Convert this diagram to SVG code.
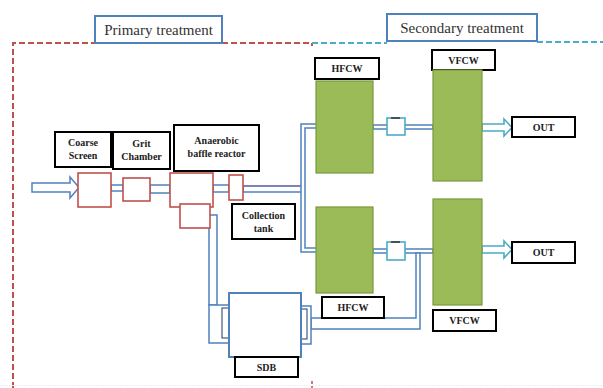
<svg xmlns="http://www.w3.org/2000/svg" width="603" height="388" viewBox="0 0 603 388">
<defs>
<style>
.lbl{fill:#fff;stroke:#000;stroke-width:2}
.t{font-family:"Liberation Serif",serif;font-weight:bold;font-size:10px;fill:#222;text-anchor:middle}
.title{font-family:"Liberation Serif",serif;font-size:15px;fill:#333;text-anchor:middle}
.tbox{fill:#fff;stroke:#4f81bd;stroke-width:2}
.red{fill:#fff;stroke:#c0504d;stroke-width:1.6}
.pipe{fill:#fff;stroke:#4f81bd;stroke-width:1.5}
.cy{fill:#fff;stroke:#4bacc6;stroke-width:1.6}
.green{fill:#9bbb59;stroke:#789a3e;stroke-width:1.2}
</style>
</defs>
<rect width="603" height="388" fill="#fff"/>
<g id="regions">
<path d="M13,388 V43 H95 M222,43 H312 V46" fill="none" stroke="#c0504d" stroke-width="2" stroke-dasharray="6,3"/>
<path d="M312,43 H387 M537,42 H603" fill="none" stroke="#4bacc6" stroke-width="2" stroke-dasharray="6,3"/>
<path d="M312,381 V388" stroke="#c0504d" stroke-width="1.5" stroke-dasharray="3,2"/>
<line x1="0" y1="385.5" x2="603" y2="385.5" stroke="#eee" stroke-width="1" stroke-dasharray="2,1"/>
</g>
<g id="primary-title"><rect class="tbox" x="95" y="16" width="127" height="27"/><text class="title" x="158.5" y="34.5">Primary treatment</text></g>
<g id="secondary-title"><rect class="tbox" x="387" y="14" width="150" height="27"/><text class="title" x="462" y="32.5">Secondary treatment</text></g>
<g id="connectors">
<!-- input arrow -->
<path d="M32,183 H70 V177 L79,187.5 L70,198 V192 H32 Z" fill="#fff" stroke="#4f81bd" stroke-width="1.5"/>
<rect class="pipe" x="111" y="185" width="12" height="6"/>
<rect class="pipe" x="150" y="185" width="20" height="8"/>
<rect class="pipe" x="213" y="185" width="16" height="7"/>
<rect class="pipe" x="243" y="186" width="60" height="6"/>
<line x1="243" y1="186" x2="302" y2="186" stroke="#8064a2" stroke-width="1"/>
<!-- manifold -->
<path class="pipe" d="M301,124 H321 V128 H305 V248 H321 V252 H301 Z"/>
<!-- top HFCW -> VFCW -->
<rect class="pipe" x="373" y="125" width="60" height="4"/>
<!-- bottom HFCW -> VFCW -->
<rect class="pipe" x="373" y="249" width="60" height="4"/>
<!-- ABR down to SDB -->
<rect class="pipe" x="209" y="215" width="8" height="90"/>
<!-- SDB right to junction -->
<path class="pipe" d="M311,318 H416 V253 H420 V329 H311 Z"/>
<!-- outlet arrows -->
<path d="M482,124 H504 V119 L512,127.5 L504,136 V131 H482 Z" fill="#fff" stroke="#4bacc6" stroke-width="1.6"/>
<path d="M482,246 H504 V241 L512,249.5 L504,258 V253 H482 Z" fill="#fff" stroke="#4bacc6" stroke-width="1.6"/>
</g>
<g id="coarse-screen"><rect class="lbl" x="55" y="132" width="56" height="35"/><text class="t" x="83" y="146">Coarse</text><text class="t" x="83" y="159">Screen</text><rect class="red" x="78" y="173" width="33" height="34"/></g>
<g id="grit-chamber"><rect class="lbl" x="113" y="132" width="57" height="37"/><text class="t" x="141.5" y="147">Grit</text><text class="t" x="141.5" y="160">Chamber</text><rect class="red" x="123" y="178" width="27" height="23"/></g>
<g id="abr"><rect class="lbl" x="174" y="125" width="85" height="46"/><text class="t" x="216.5" y="144">Anaerobic</text><text class="t" x="216.5" y="157">baffle reactor</text><rect class="red" x="170" y="173" width="43" height="34"/><rect class="red" x="180" y="204" width="30" height="24"/></g>
<g id="collection-tank"><rect class="red" x="229" y="175" width="14" height="25"/><rect class="lbl" x="232" y="204" width="63" height="35"/><text class="t" x="263.5" y="219">Collection</text><text class="t" x="263.5" y="232">tank</text></g>
<g id="hfcw-top"><rect class="lbl" x="315" y="58" width="64" height="21"/><text class="t" x="347" y="72">HFCW</text><rect class="green" x="316" y="81" width="57" height="92"/></g>
<g id="vfcw-top"><rect class="lbl" x="432" y="50" width="63" height="20"/><text class="t" x="463.5" y="64">VFCW</text><rect class="green" x="433" y="70" width="49" height="111"/></g>
<g id="hfcw-bottom"><rect class="green" x="316" y="207" width="57" height="86"/><rect class="lbl" x="322" y="297" width="62" height="21"/><text class="t" x="353" y="311">HFCW</text></g>
<g id="vfcw-bottom"><rect class="green" x="433" y="199" width="49" height="106"/><rect class="lbl" x="433" y="310" width="63" height="21"/><text class="t" x="464.5" y="324">VFCW</text></g>
<g id="valve-top"><rect class="cy" x="387" y="118" width="18" height="17"/><line x1="391" y1="118" x2="400" y2="118" stroke="#333" stroke-width="1.5"/></g>
<g id="valve-bottom"><rect class="cy" x="387" y="242" width="18" height="18"/><line x1="391" y1="242" x2="400" y2="242" stroke="#333" stroke-width="1.5"/></g>
<g id="out-top"><rect class="lbl" x="512" y="117" width="63" height="20"/><text class="t" x="543.5" y="131">OUT</text></g>
<g id="out-bottom"><rect class="lbl" x="512" y="242" width="63" height="21"/><text class="t" x="543.5" y="256">OUT</text></g>
<g id="sdb">
<rect class="pipe" x="209" y="305" width="20" height="38"/>
<rect x="222" y="308" width="7" height="30" fill="#fff" stroke="#1f3a60" stroke-width="1"/>
<rect class="pipe" x="301" y="306" width="10" height="38"/>
<rect x="301" y="309" width="6" height="30" fill="#fff" stroke="#1f3a60" stroke-width="1"/>
<rect x="229" y="293" width="72" height="64" fill="#fff" stroke="#4f81bd" stroke-width="2"/>
<rect class="lbl" x="235" y="357" width="63" height="20"/><text class="t" x="266.5" y="371">SDB</text>
</g>
</svg>
